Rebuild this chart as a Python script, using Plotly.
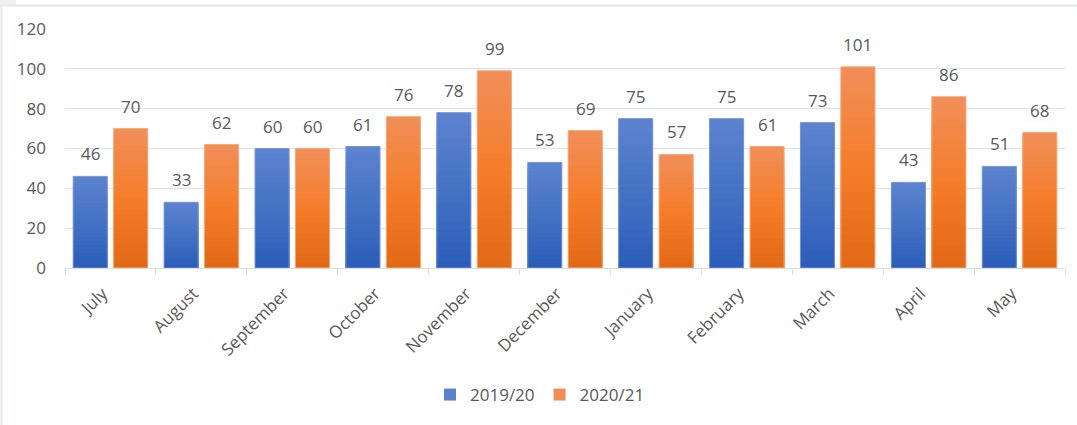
import plotly.graph_objects as go

months = ["July", "August", "September", "October", "November", "December",
          "January", "February", "March", "April", "May"]
series_names = ["2019/20", "2020/21"]
values_1920 = [46, 33, 60, 61, 78, 53, 75, 75, 73, 43, 51]
values_2021 = [70, 62, 60, 76, 99, 69, 57, 61, 101, 86, 68]
y_ticks = [0, 20, 40, 60, 80, 100, 120]

# gradient stops (top -> middle -> bottom)
blue_stops = [(92, 130, 207), (68, 114, 196), (44, 93, 184)]
orange_stops = [(241, 142, 88), (245, 125, 42), (226, 106, 22)]
N = 24
FONT = "Open Sans"
TXT = "#595959"
FS = 17

# plot area in page pixels
L, R, T, B = 65, 1065, 29, 268
PW, PH = R - L, B - T
CAT = PW / len(months)

def px(x):
    return (x - L) / PW

def py(y):
    return (B - y) / PH

def interp(stops, t):
    # t: 0 top, 1 bottom
    if t <= 0.5:
        a, b, f = stops[0], stops[1], t / 0.5
    else:
        a, b, f = stops[1], stops[2], (t - 0.5) / 0.5
    return "rgb(%d,%d,%d)" % tuple(round(a[i] + (b[i] - a[i]) * f) for i in range(3))

fig = go.Figure()
WIDTH = 0.375
configs = [
    (series_names[0], values_1920, blue_stops, -0.41, "rgb(120,150,215)"),
    (series_names[1], values_2021, orange_stops, 0.035, "rgb(246,170,120)"),
]
for name, vals, stops, off, edge in configs:
    for k in range(N):
        frac = 1 - k / N
        fig.add_trace(go.Bar(
            x=months, y=[v * frac for v in vals], name=name,
            offset=off, width=WIDTH,
            marker=dict(color=interp(stops, k / (N - 1)), line=dict(width=0)),
            showlegend=(k == 0), legendgroup=name, hoverinfo="skip" if k else None,
        ))
    fig.add_trace(go.Bar(
        x=months, y=vals, name=name, offset=off, width=WIDTH,
        marker=dict(color="rgba(0,0,0,0)", line=dict(color=edge, width=1)),
        showlegend=False, legendgroup=name, hoverinfo="skip",
    ))

annotations = []
for name, vals, stops, off, edge in configs:
    for m, v in zip(months, vals):
        annotations.append(dict(
            x=m, y=v, xref="x", yref="y", text=str(v), showarrow=False,
            xshift=(off + WIDTH / 2) * CAT, yanchor="bottom", yshift=9,
            font=dict(size=FS, color=TXT, family=FONT),
        ))

fig.update_layout(
    width=1077, height=425,
    margin=dict(l=L, r=1077 - R, t=T, b=425 - B, autoexpand=False),
    paper_bgcolor="white", plot_bgcolor="white",
    barmode="overlay",
    font=dict(family=FONT, size=FS, color=TXT),
    annotations=annotations,
    legend=dict(orientation="h", x=px(540), xanchor="center", y=py(395), yanchor="middle",
                font=dict(size=FS, color=TXT, family=FONT), itemwidth=30, traceorder="normal"),
    xaxis=dict(
        tickangle=-45, showgrid=False, showline=True, linecolor="#d9dce2", linewidth=1,
        ticks="outside", tickson="boundaries", ticklen=6, tickcolor="#d9dce2",
        tickfont=dict(size=17, color=TXT, family=FONT), range=[-0.5, len(months) - 0.5],
        automargin=False, ticklabelstandoff=8, ticklabelshift=-8,
    ),
    yaxis=dict(
        range=[0, 120], tickvals=y_ticks, showgrid=True, gridcolor="#dfe2e8", gridwidth=1,
        zeroline=False, showline=False, ticks="", ticklabelstandoff=18,
        tickfont=dict(size=FS, color=TXT, family=FONT), automargin=False,
    ),
    shapes=[
        dict(type="rect", xref="paper", yref="paper", x0=px(0), x1=px(16),
             y0=py(5), y1=py(0), line=dict(width=0), fillcolor="#eef0f3"),
        dict(type="line", xref="paper", yref="paper", x0=px(0), x1=px(1077),
             y0=py(5.5), y1=py(5.5), line=dict(color="#e4e7ec", width=2)),
        dict(type="line", xref="paper", yref="paper", x0=px(1.5), x1=px(1.5),
             y0=py(5), y1=py(425), line=dict(color="#e4e7ec", width=2)),
    ],
)

fig.write_html(
    "out.html",
    config={"displayModeBar": False},
    post_script="document.body.style.margin='0';document.body.style.overflow='hidden';",
)
